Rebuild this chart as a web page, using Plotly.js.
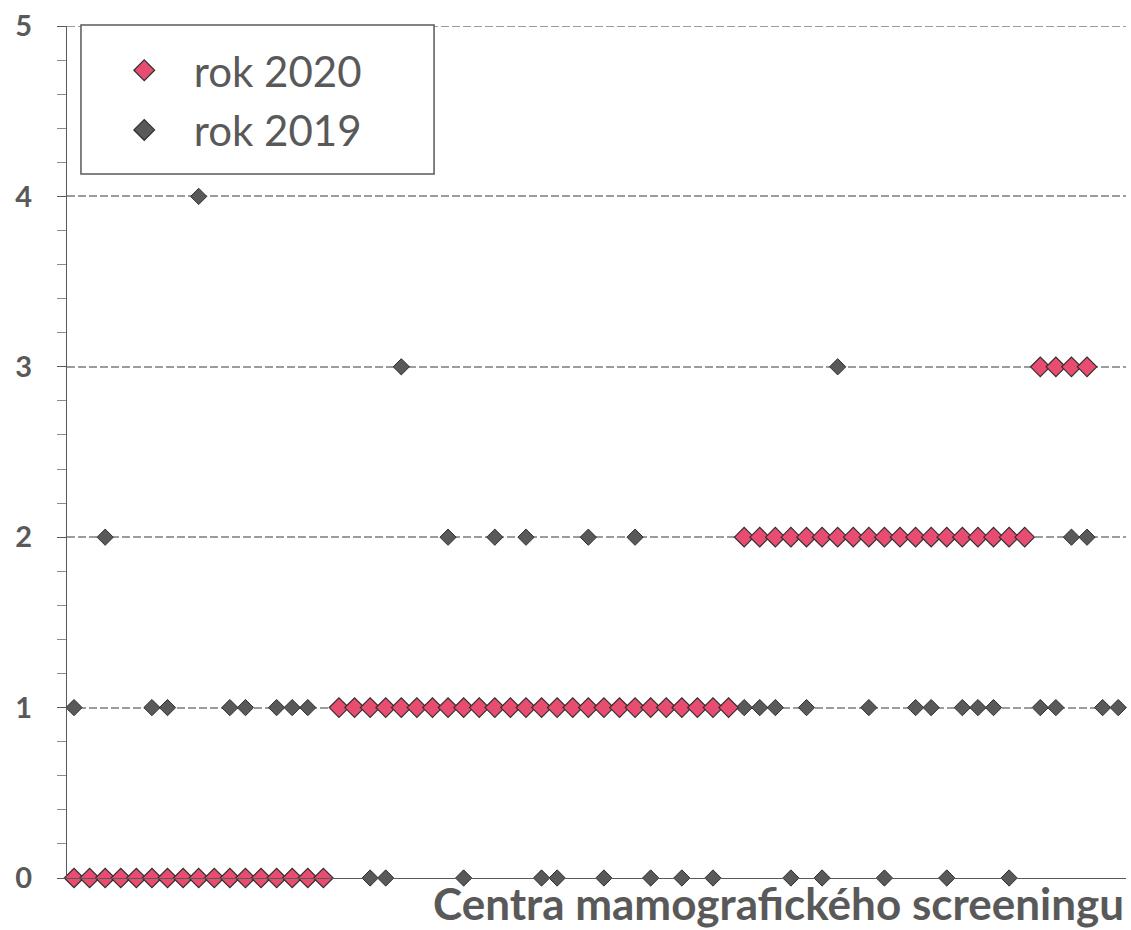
<!DOCTYPE html>
<html>
<head>
<meta charset="utf-8">
<script src="https://cdn.plot.ly/plotly-3.0.1.min.js"></script>
<style>
html,body{margin:0;padding:0;background:#fff;}
#chart{width:1131px;height:930px;}
</style>
</head>
<body>
<div id="chart"></div>
<script>
// Centre numbers (x categories)
const centres = [1,2,3,4,5,6,7,8,9,10,11,12,13,14,15,16,17,18,19,20,
  21,22,23,24,25,26,27,28,29,30,31,32,33,34,35,36,37,38,39,40,
  41,42,43,44,45,46,47,48,49,50,51,52,53,54,55,56,57,58,59,60,
  61,62,63,64,65,66,67,68];

// rok 2019 values per centre
const values2019 = [1,0,2,0,0,1,1,0,4,0,1,1,0,1,1,1,0,1,1,0,
  0,3,1,1,2,0,1,2,1,2,0,0,1,2,0,1,2,0,1,0,
  1,0,1,1,1,1,0,1,0,3,2,1,0,2,1,1,0,1,1,1,
  0,2,1,1,2,2,1,1];

// rok 2020 values per centre (null = no value)
const values2020 = [0,0,0,0,0,0,0,0,0,0,0,0,0,0,0,0,0,
  1,1,1,1,1,1,1,1,1,1,1,1,1,1,1,1,1,1,1,1,1,1,1,1,1,1,
  2,2,2,2,2,2,2,2,2,2,2,2,2,2,2,2,2,2,2,
  3,3,3,3,null,null];

const yTicks = [0,1,2,3,4,5];
const seriesNames = ['rok 2020','rok 2019'];
const xTitle = 'Centra mamografického screeningu';

const FONT = 'Lato, "Open Sans", sans-serif';
const GREY = '#595959';
const GRID = '#9C9C9C';
const PINK = '#E84C70';
const EDGE = '#303030';

const traces = [
  {
    x: centres, y: values2019, name: seriesNames[1], type: 'scatter', mode: 'markers',
    marker: {symbol: 'diamond', size: 12.5, color: GREY, line: {color: EDGE, width: 1}},
    cliponaxis: false, showlegend: false
  },
  {
    x: centres, y: values2020, name: seriesNames[0], type: 'scatter', mode: 'markers',
    marker: {symbol: 'diamond', size: 15, color: PINK, line: {color: EDGE, width: 1.2}},
    cliponaxis: false, showlegend: false
  },
  // legend entries (no data points)
  {
    x: [null], y: [null], name: seriesNames[0], type: 'scatter', mode: 'markers',
    marker: {symbol: 'diamond', size: 16, color: PINK, line: {color: EDGE, width: 1.2}},
    legendgroup: 'a', legendrank: 1
  },
  {
    x: [null], y: [null], name: seriesNames[1], type: 'scatter', mode: 'markers',
    marker: {symbol: 'diamond', size: 16, color: GREY, line: {color: EDGE, width: 1.2}},
    legendgroup: 'b', legendrank: 2
  }
];

const layout = {
  width: 1131, height: 930,
  margin: {l: 67, r: 5, t: 26, b: 52},
  paper_bgcolor: '#fff', plot_bgcolor: '#fff',
  font: {family: FONT, color: GREY},
  showlegend: true,
  legend: {
    x: 0.0262, y: 0.9877, xanchor: 'left', yanchor: 'top',
    bgcolor: 'rgba(0,0,0,0)', borderwidth: 0,
    font: {family: FONT, size: 42, color: GREY},
    itemwidth: 89, traceorder: 'grouped', tracegroupgap: 2
  },
  xaxis: {
    range: [0.55, 68.5],
    showticklabels: false, ticks: '', showgrid: false, zeroline: false,
    showline: true, linecolor: GREY, linewidth: 1
  },
  yaxis: {
    range: [0, 5], tickvals: yTicks, ticktext: yTicks.map(v => '<b>' + v + '</b>'),
    showline: true, linecolor: GREY, linewidth: 1.2,
    ticks: 'outside', ticklen: 9, tickcolor: GREY, tickwidth: 1,
    ticklabelstandoff: 19,
    tickfont: {family: FONT, size: 29, color: GREY},
    showgrid: true, gridcolor: GRID, griddash: '8px,3px', gridwidth: 2,
    zeroline: false,
    minor: {dtick: 0.2, ticks: 'outside', ticklen: 9, tickcolor: '#8C8C8C', tickwidth: 1, showgrid: false}
  },
  shapes: [
    {type: 'line', xref: 'paper', yref: 'y', x0: 0, x1: 1, y0: yTicks[yTicks.length - 1], y1: yTicks[yTicks.length - 1],
     line: {color: GRID, width: 2, dash: '8px,3px'}, layer: 'below'},
    {type: 'rect', xref: 'paper', yref: 'paper', x0: 0.0132, x1: 0.3466, y0: 0.8263, y1: 1.0012,
     line: {color: GREY, width: 1.5}, fillcolor: '#fff', layer: 'below'}
  ],
  annotations: [
    {text: '<b>' + xTitle + '</b>', xref: 'paper', yref: 'paper', x: 1.0, y: -0.0625,
     xanchor: 'right', yanchor: 'bottom', showarrow: false,
     font: {family: FONT, size: 44, color: GREY}}
  ]
};

Plotly.newPlot('chart', traces, layout, {displayModeBar: false, staticPlot: true});
</script>
</body>
</html>
